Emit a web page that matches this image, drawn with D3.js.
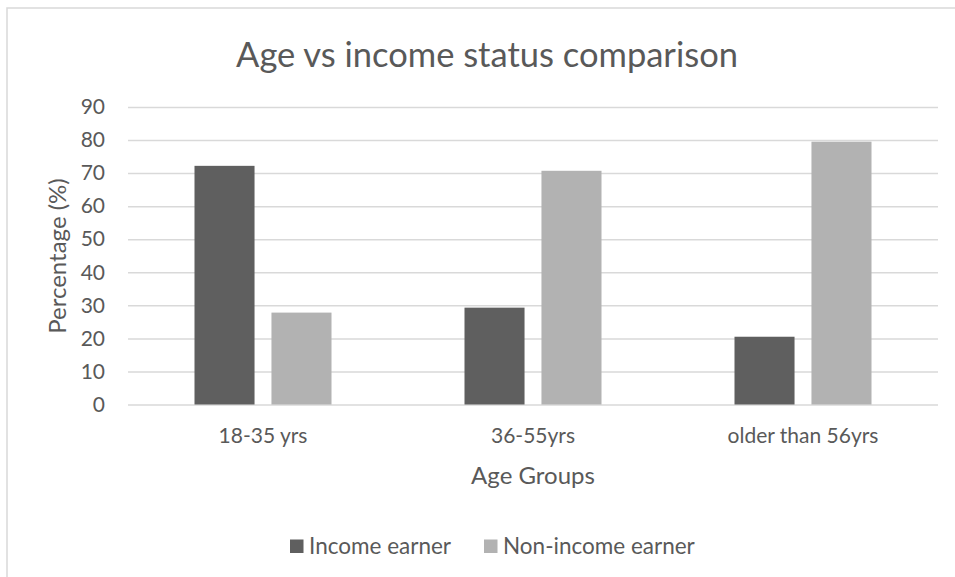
<!DOCTYPE html>
<html>
<head>
<meta charset="utf-8">
<script src="https://cdn.jsdelivr.net/npm/d3@7"></script>
<style>
  html, body { margin: 0; padding: 0; background: #ffffff; }
  svg { display: block; font-family: Lato, "Open Sans", sans-serif; }
</style>
</head>
<body>
<svg id="chart" width="955" height="577"></svg>
<script>
// Age groups and the share of each income status within them (%)
const categories = ["18-35 yrs", "36-55yrs", "older than 56yrs"];
const seriesNames = ["Income earner", "Non-income earner"];
const incomeEarner = [72.2, 29.3, 20.5];
const nonIncomeEarner = [27.8, 70.7, 79.5];
const yTicks = [0, 10, 20, 30, 40, 50, 60, 70, 80, 90];

const colors = ["#5f5f5f", "#b2b2b2"];
const textColor = "#595959";
const gridColor = "#d9d9d9";

const rows = categories.map((c, i) => ({
  category: c,
  values: [incomeEarner[i], nonIncomeEarner[i]]
}));

const svg = d3.select("#chart");

// Chart frame
svg.append("rect")
  .attr("x", 7).attr("y", 8)
  .attr("width", 1000).attr("height", 700)
  .attr("fill", "#ffffff")
  .attr("stroke", gridColor)
  .attr("stroke-width", 1.5);

const plot = { left: 128, right: 938, top: 107, bottom: 404.5 };

const x0 = d3.scaleBand()
  .domain(categories)
  .range([plot.left, plot.right])
  .paddingInner(0.4926)
  .paddingOuter(0.2463);

const x1 = d3.scaleBand()
  .domain(d3.range(seriesNames.length))
  .range([0, x0.bandwidth()])
  .paddingInner(0.22)
  .paddingOuter(0);

const y = d3.scaleLinear()
  .domain([0, 90])
  .range([plot.bottom, plot.top]);

// Gridlines and value labels
const yAxis = d3.axisLeft(y)
  .tickValues(yTicks)
  .tickSize(-(plot.right - plot.left))
  .tickPadding(23)
  .tickFormat(d3.format("d"));

const gy = svg.append("g")
  .attr("transform", `translate(${plot.left},0)`)
  .call(yAxis);
gy.select(".domain").remove();
gy.selectAll(".tick line")
  .attr("stroke", gridColor)
  .attr("stroke-width", 1.5);
gy.selectAll(".tick text")
  .attr("fill", textColor)
  .attr("font-size", 21)
  .attr("font-family", "Lato, sans-serif");

// Bars
const groups = svg.append("g")
  .selectAll("g")
  .data(rows)
  .join("g")
  .attr("transform", d => `translate(${x0(d.category)},0)`);

groups.selectAll("rect")
  .data(d => d.values.map((v, i) => ({ v, i })))
  .join("rect")
  .attr("x", d => x1(d.i))
  .attr("y", d => y(d.v))
  .attr("width", x1.bandwidth())
  .attr("height", d => y(0) - y(d.v))
  .attr("fill", d => colors[d.i]);

// Category axis labels
const xAxis = d3.axisBottom(x0).tickSize(0).tickPadding(24);
const gx = svg.append("g")
  .attr("transform", `translate(0,${plot.bottom})`)
  .call(xAxis);
gx.select(".domain").remove();
gx.selectAll(".tick text")
  .attr("fill", textColor)
  .attr("font-size", 21)
  .attr("font-family", "Lato, sans-serif");

// Title
svg.append("text")
  .attr("x", 487)
  .attr("y", 67)
  .attr("text-anchor", "middle")
  .attr("fill", textColor)
  .attr("font-size", 34.5)
  .text("Age vs income status comparison");

// Axis titles
svg.append("text")
  .attr("x", (plot.left + plot.right) / 2)
  .attr("y", 484)
  .attr("text-anchor", "middle")
  .attr("fill", textColor)
  .attr("font-size", 24)
  .text("Age Groups");

svg.append("text")
  .attr("transform", `translate(${66},${256}) rotate(-90)`)
  .attr("text-anchor", "middle")
  .attr("fill", textColor)
  .attr("font-size", 24)
  .text("Percentage (%)");

// Legend
const legendItems = [
  { name: seriesNames[0], color: colors[0], x: 290 },
  { name: seriesNames[1], color: colors[1], x: 484 }
];
const legend = svg.append("g");
legendItems.forEach(item => {
  legend.append("rect")
    .attr("x", item.x).attr("y", 539.5)
    .attr("width", 13.5).attr("height", 13.5)
    .attr("fill", item.color);
  legend.append("text")
    .attr("x", item.x + 19)
    .attr("y", 554)
    .attr("fill", textColor)
    .attr("font-size", 22.5)
    .text(item.name);
});
</script>
</body>
</html>
